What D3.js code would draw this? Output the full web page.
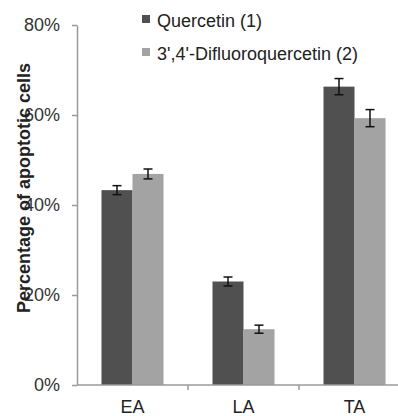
<!DOCTYPE html>
<html>
<head>
<meta charset="utf-8">
<script src="https://cdn.jsdelivr.net/npm/d3@7"></script>
<style>
  html, body { margin: 0; padding: 0; background: #fff; }
  svg { display: block; font-family: "Liberation Sans", Arial, sans-serif; }
</style>
</head>
<body>
<svg id="chart" width="398" height="416"></svg>
<script>
// Apoptosis stages and the two compounds compared
const categories = ["EA", "LA", "TA"];
const seriesNames = ["Quercetin (1)", "3',4'-Difluoroquercetin (2)"];
const quercetin = [0.433, 0.230, 0.663];
const quercetinErr = [0.010, 0.010, 0.018];
const difluoro = [0.469, 0.124, 0.593];
const difluoroErr = [0.011, 0.009, 0.019];
const yTicks = [0, 0.2, 0.4, 0.6, 0.8];
const colors = ["#505050", "#a3a3a3"];

const rows = categories.map((c, i) => ({
  cat: c,
  bars: [
    { s: seriesNames[0], v: quercetin[i], e: quercetinErr[i] },
    { s: seriesNames[1], v: difluoro[i], e: difluoroErr[i] }
  ]
}));

const svg = d3.select("#chart");
const plotLeft = 77, plotTop = 25, plotBottom = 385, plotRight = 410;

const y = d3.scaleLinear().domain([0, 0.8]).range([plotBottom, plotTop]);
const x = d3.scaleBand().domain(categories).range([plotLeft, plotRight]).padding(0);
const x1 = d3.scaleBand().domain(seriesNames).range([0, x.bandwidth()])
  .paddingInner(0).paddingOuter(0.79);
const color = d3.scaleOrdinal().domain(seriesNames).range(colors);

// Bars
const groups = svg.append("g").selectAll("g").data(rows).join("g")
  .attr("transform", d => `translate(${x(d.cat)},0)`);
groups.selectAll("rect").data(d => d.bars).join("rect")
  .attr("x", d => x1(d.s))
  .attr("y", d => y(d.v))
  .attr("width", x1.bandwidth())
  .attr("height", d => y(0) - y(d.v))
  .attr("fill", d => color(d.s));

// Error bars
const eb = groups.selectAll("g.err").data(d => d.bars).join("g").attr("class", "err")
  .attr("stroke", "#111").attr("stroke-width", 1.5);
const cap = 4.5;
const cx = d => x1(d.s) + x1.bandwidth() / 2;
eb.append("line")
  .attr("x1", cx).attr("x2", cx)
  .attr("y1", d => y(d.v + d.e)).attr("y2", d => y(d.v - d.e));
eb.append("line")
  .attr("x1", d => cx(d) - cap).attr("x2", d => cx(d) + cap)
  .attr("y1", d => y(d.v + d.e)).attr("y2", d => y(d.v + d.e));
eb.append("line")
  .attr("x1", d => cx(d) - cap).attr("x2", d => cx(d) + cap)
  .attr("y1", d => y(d.v - d.e)).attr("y2", d => y(d.v - d.e));

// Y axis
const yAxis = svg.append("g").attr("transform", `translate(${plotLeft},0)`)
  .call(d3.axisLeft(y).tickValues(yTicks).tickFormat(d3.format(".0%")).tickSize(5).tickPadding(12).tickSizeOuter(0));
yAxis.select(".domain").attr("stroke", "#9a9a9a").attr("stroke-width", 1.5);
yAxis.selectAll(".tick line").attr("stroke", "#9a9a9a").attr("stroke-width", 1.5);
yAxis.selectAll(".tick text").attr("font-size", 18).attr("fill", "#333")
  .attr("font-family", "Liberation Sans, Arial, sans-serif");

// X axis with ticks between categories
const xAxis = svg.append("g").attr("transform", `translate(0,${plotBottom})`);
xAxis.append("line").attr("x1", plotLeft).attr("x2", plotRight).attr("y1", 0).attr("y2", 0)
  .attr("stroke", "#9a9a9a").attr("stroke-width", 1.5);
xAxis.selectAll("line.sep").data(categories).join("line").attr("class", "sep")
  .attr("x1", d => x(d) + x.bandwidth()).attr("x2", d => x(d) + x.bandwidth())
  .attr("y1", 0).attr("y2", 5).attr("stroke", "#9a9a9a").attr("stroke-width", 1.5);
xAxis.selectAll("text").data(categories).join("text")
  .attr("x", d => x(d) + x.bandwidth() / 2).attr("y", 28)
  .attr("text-anchor", "middle").attr("font-size", 18).attr("fill", "#222")
  .text(d => d);

// Y axis title (overlaps the tick labels, as drawn)
svg.append("text")
  .attr("transform", "translate(30,188) rotate(-90)")
  .attr("text-anchor", "middle").attr("font-size", 18).attr("font-weight", "bold")
  .attr("fill", "#222").text("Percentage of apoptotic cells");

// Legend
const legend = svg.append("g").selectAll("g").data(seriesNames).join("g")
  .attr("transform", (d, i) => `translate(142,${15 + i * 33})`);
legend.append("rect").attr("width", 8).attr("height", 8).attr("fill", d => color(d));
legend.append("text").attr("x", 15).attr("y", 12).attr("font-size", 18).attr("fill", "#222")
  .text(d => d);
</script>
</body>
</html>
